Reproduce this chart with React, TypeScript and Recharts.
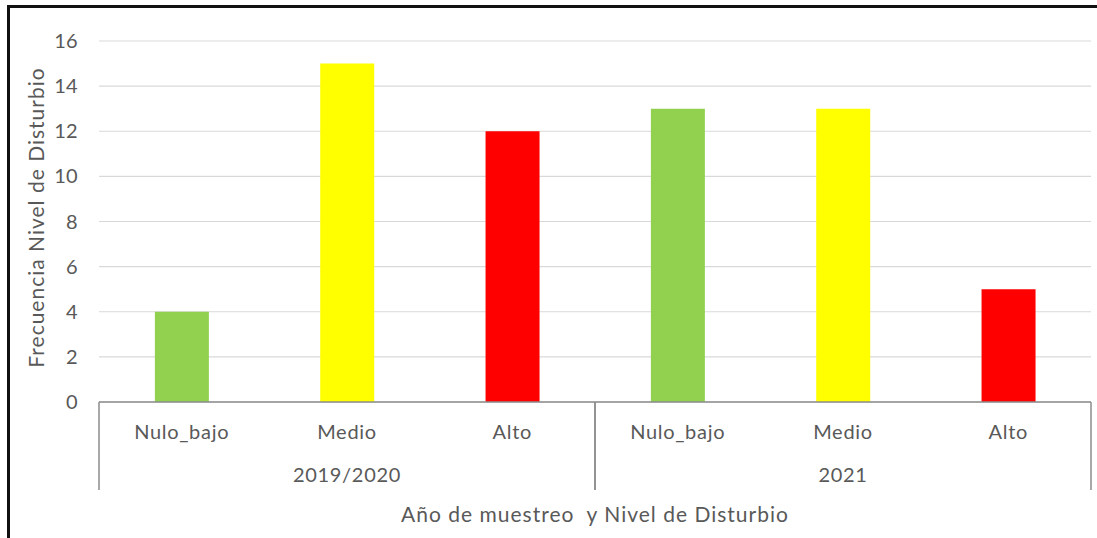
import { BarChart, Bar, XAxis, YAxis, CartesianGrid, Cell } from "recharts";

const niveles = ["Nulo_bajo", "Medio", "Alto", "Nulo_bajo", "Medio", "Alto"];
const grupos = ["2019/2020", "2019/2020", "2019/2020", "2021", "2021", "2021"];
const frecuencias = [4, 15, 12, 13, 13, 5];
const colores = ["#92D050", "#FFFF00", "#FF0000", "#92D050", "#FFFF00", "#FF0000"];
const yTicks = [0, 2, 4, 6, 8, 10, 12, 14, 16];

const data = niveles.map((nivel, i) => ({
  id: `${grupos[i]}|${nivel}`,
  nivel,
  grupo: grupos[i],
  valor: frecuencias[i],
}));

const FONT = "Lato, Carlito, Calibri, sans-serif";
const TEXT = "#595959";
const AXIS = "#8c8c8c";

const W = 1097;
const H = 538;
const MARGIN = { top: 41, right: 6, bottom: 3, left: 0 };
const NIVEL_H = 45;
const GRUPO_H = 88;

const tickText = { fill: TEXT, fontSize: 20, fontFamily: FONT, letterSpacing: 0.7 };

function NivelTick(props: any) {
  const { x, y, payload } = props;
  const row = data.find((d) => d.id === payload.value);
  return (
    <text x={x} y={y + 29} textAnchor="middle" dominantBaseline="central" {...tickText}>
      {row ? row.nivel : payload.value}
    </text>
  );
}

function GrupoTick(props: any) {
  const { x, y, payload } = props;
  const half = payload.offset > 0 ? payload.offset : (W - 99 - MARGIN.right) / 4;
  return (
    <g>
      <line x1={x - half} x2={x - half} y1={y - NIVEL_H} y2={y + 43} stroke={AXIS} strokeWidth={1.5} />
      <line x1={x + half} x2={x + half} y1={y - NIVEL_H} y2={y + 43} stroke={AXIS} strokeWidth={1.5} />
      <text x={x} y={y + 27} textAnchor="middle" dominantBaseline="central" {...tickText}>
        {payload.value}
      </text>
    </g>
  );
}

export default function App() {
  return (
    <div style={{ position: "absolute", left: 0, top: 0, width: W, height: H, overflow: "hidden", background: "#fff" }}>
      <div
        style={{
          position: "absolute",
          left: 7,
          top: 5,
          width: 1200,
          height: 700,
          border: "3px solid #111",
          boxSizing: "border-box",
        }}
      />
      <div style={{ position: "absolute", left: 0, top: 0 }}>
        <BarChart width={W} height={H} data={data} margin={MARGIN} barCategoryGap="33.8%">
          <CartesianGrid xAxisId="a_nivel" vertical={false} stroke="#d9d9d9" strokeWidth={1.2} />
          <XAxis
            xAxisId="a_nivel"
            dataKey="id"
            height={NIVEL_H}
            tickSize={0}
            tickMargin={0}
            axisLine={{ stroke: AXIS, strokeWidth: 1.5 }}
            tickLine={false}
            tick={<NivelTick />}
            interval={0}
          />
          <XAxis
            xAxisId="b_grupo"
            dataKey="grupo"
            allowDuplicatedCategory={false}
            height={GRUPO_H}
            tickSize={0}
            tickMargin={0}
            axisLine={false}
            tickLine={false}
            tick={<GrupoTick />}
            interval={0}
            label={(p: any) => {
              const vb = p.viewBox || {};
              return (
                <text
                  x={(vb.x ?? 99) + (vb.width ?? 992) / 2}
                  y={(vb.y ?? 447) + 66}
                  textAnchor="middle"
                  dominantBaseline="central"
                  fill={TEXT}
                  fontSize={21}
                  fontFamily={FONT}
                  letterSpacing={1}
                  style={{ whiteSpace: "pre" }}
                >
                  {"Año de muestreo  y Nivel de Disturbio"}
                </text>
              );
            }}
          />
          <YAxis
            width={99}
            domain={[0, 16]}
            ticks={yTicks}
            interval={0}
            tickSize={0}
            tickMargin={21}
            axisLine={false}
            tickLine={false}
            tick={{ fill: TEXT, fontSize: 20, fontFamily: FONT, letterSpacing: 0.3 }}
            label={(p: any) => {
              const vb = p.viewBox || {};
              const cx = (vb.x ?? 0) + 35;
              const cy = (vb.y ?? 41) + (vb.height ?? 361) / 2 - 4;
              return (
                <text
                  x={cx}
                  y={cy}
                  transform={`rotate(-90 ${cx} ${cy})`}
                  textAnchor="middle"
                  dominantBaseline="central"
                  fill={TEXT}
                  fontSize={21}
                  fontFamily={FONT}
                  letterSpacing={1}
                >
                  Frecuencia Nivel de Disturbio
                </text>
              );
            }}
          />
          <Bar xAxisId="a_nivel" dataKey="valor" isAnimationActive={false}>
            {data.map((d, i) => (
              <Cell key={d.id} fill={colores[i]} />
            ))}
          </Bar>
        </BarChart>
      </div>
    </div>
  );
}
